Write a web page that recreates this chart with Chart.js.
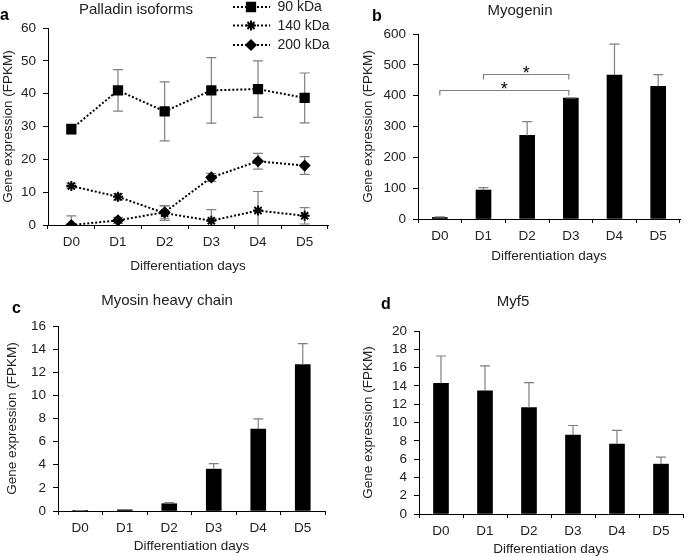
<!DOCTYPE html>
<html><head><meta charset="utf-8">
<script src="https://cdn.jsdelivr.net/npm/chart.js@4.4.1/dist/chart.umd.min.js"></script>
<style>
html,body{margin:0;padding:0;background:#fff;}
body{width:685px;height:557px;position:relative;overflow:hidden;font-family:"Liberation Sans",Arial,sans-serif;}
.panel{position:absolute;}
.lbl{position:absolute;font-weight:bold;font-size:16px;color:#000;line-height:1;}
.ttl{position:absolute;font-size:15px;color:#222;line-height:1;white-space:nowrap;transform:translateX(-50%);}
</style></head><body>
<div class="panel" style="left:0;top:0;width:340px;height:280px"><canvas id="ca"></canvas></div>
<div class="panel" style="left:340px;top:0;width:345px;height:280px"><canvas id="cb"></canvas></div>
<div class="panel" style="left:0;top:280px;width:340px;height:277px"><canvas id="cc"></canvas></div>
<div class="panel" style="left:340px;top:280px;width:345px;height:277px"><canvas id="cd"></canvas></div>
<div class="lbl" style="left:0px;top:7px">a</div>
<div class="lbl" style="left:372px;top:8px">b</div>
<div class="lbl" style="left:12px;top:300px">c</div>
<div class="lbl" style="left:381px;top:296px">d</div>
<div class="ttl" style="left:136px;top:1px">Palladin isoforms</div>
<div class="ttl" style="left:520px;top:2px">Myogenin</div>
<div class="ttl" style="left:167px;top:292px">Myosin heavy chain</div>
<div class="ttl" style="left:513px;top:293px">Myf5</div>
<script>
// ---------- data ----------
const days = ['D0','D1','D2','D3','D4','D5'];
const seriesNames = ['90 kDa','140 kDa','200 kDa'];
const pal90 = [29.2, 41.0, 34.6, 41.0, 41.4, 38.7];
const pal90Err = [1.5, 6.3, 9.0, 10.0, 8.6, 7.6];
const pal140 = [11.9, 8.6, 3.6, 1.3, 4.4, 2.8];
const pal140Err = [0.6, 1.0, 2.2, 3.4, 5.8, 2.5];
const pal200 = [0.0, 1.4, 3.9, 14.5, 19.4, 18.1];
const pal200Err = [2.8, 0.9, 2.0, 1.2, 2.4, 2.7];
const myogenin = [5, 94, 271, 392, 467, 430];
const myogeninErr = [2, 8, 45, 1, 100, 38];
const mhc = [0.03, 0.1, 0.63, 3.62, 7.09, 12.67];
const mhcErr = [0.01, 0.03, 0.1, 0.48, 0.87, 1.8];
const myf5 = [14.29, 13.45, 11.64, 8.62, 7.64, 5.45];
const myf5Err = [2.98, 2.73, 2.72, 1.05, 1.49, 0.77];
const sigPairs = [[0,3],[1,3]];
const sigLevels = [418, 470];
const sigLabels = ['*','*'];
const yTitle = 'Gene expression (FPKM)';
const xTitle = 'Differentiation days';

// ---------- styles ----------
const FONT = '"Liberation Sans", Arial, sans-serif';
const TXT = '#222';
const ERR = '#808080';

function xScale(h, titlePadBottom){
  return {
    type:'category', offset:true,
    grid:{display:true, drawOnChartArea:false, drawTicks:true, tickLength:4, offset:true, color:'#000', lineWidth:1},
    border:{display:true, color:'#000', width:1},
    ticks:{color:TXT, font:{family:FONT,size:13.5}, padding:5, maxRotation:0, autoSkip:false},
    title:{display:true, text:xTitle, color:TXT, font:{family:FONT,size:13.5}, padding:{top:0,bottom:titlePadBottom}},
    afterFit(s){ s.height = h; }
  };
}
function yScale(max, step, w){
  return {
    min:0, max:max,
    grid:{display:true, drawOnChartArea:false, drawTicks:true, tickLength:5, color:'#000', lineWidth:1},
    border:{display:true, color:'#000', width:1},
    ticks:{stepSize:step, autoSkip:false, color:TXT, font:{family:FONT,size:13.5}, padding:7},
    title:{display:true, text:yTitle, color:TXT, font:{family:FONT,size:13.5}, padding:{top:0,bottom:0}},
    afterFit(s){ s.width = w; }
  };
}

function errorBars(errs, both, cap){
  function draw(chart){
    const ctx = chart.ctx, ys = chart.scales.y, a = chart.chartArea;
    ctx.save();
    ctx.beginPath(); ctx.rect(a.left, a.top-20, a.right-a.left, a.bottom-a.top+20); ctx.clip();
    ctx.strokeStyle = ERR; ctx.lineWidth = 1.2;
    errs.forEach((arr, di) => {
      const meta = chart.getDatasetMeta(di);
      const vals = chart.data.datasets[di].data;
      meta.data.forEach((el, j) => {
        const v = vals[j], e = arr[j];
        const x = el.x;
        const yt = ys.getPixelForValue(v + e);
        const yb = both ? ys.getPixelForValue(v - e) : ys.getPixelForValue(v);
        ctx.beginPath();
        ctx.moveTo(x, yt); ctx.lineTo(x, yb);
        ctx.moveTo(x - cap/2, yt); ctx.lineTo(x + cap/2, yt);
        if (both) { ctx.moveTo(x - cap/2, yb); ctx.lineTo(x + cap/2, yb); }
        ctx.stroke();
      });
    });
    ctx.restore();
  }
  return both ? {id:'eb', beforeDatasetsDraw: draw} : {id:'eb', afterDatasetsDraw: draw};
}

const markerStyles = [
  {pointStyle:'rect', radius:6.2, bw:1.5},
  {pointStyle:'star', radius:5, bw:2},
  {pointStyle:'rectRot', radius:5, bw:1.5}
];

const legendPlugin = {
  id:'customLegend',
  afterDraw(chart){
    const ctx = chart.ctx;
    const rows = [7, 25.5, 45];
    ctx.save();
    seriesNames.forEach((name, i) => {
      const y = rows[i];
      ctx.strokeStyle = '#000'; ctx.lineWidth = 2; ctx.setLineDash([2,2]);
      ctx.beginPath(); ctx.moveTo(233, y); ctx.lineTo(270, y); ctx.stroke();
      ctx.setLineDash([]);
      const ms = markerStyles[i];
      ctx.fillStyle = '#000'; ctx.strokeStyle = '#000'; ctx.lineWidth = ms.bw;
      if (Chart.helpers && Chart.helpers.drawPoint) {
        Chart.helpers.drawPoint(ctx, {pointStyle: ms.pointStyle, radius: ms.radius, rotation: 0, borderWidth: ms.bw}, 251, y);
      }
      ctx.fillStyle = TXT;
      ctx.font = '14px ' + FONT;
      ctx.textBaseline = 'middle'; ctx.textAlign = 'left';
      ctx.fillText(name, 277.5, y + 0.5);
    });
    ctx.restore();
  }
};

const sigPlugin = {
  id:'sig',
  afterDatasetsDraw(chart){
    const ctx = chart.ctx, ys = chart.scales.y, meta = chart.getDatasetMeta(0);
    ctx.save();
    sigPairs.forEach((p, k) => {
      const x1 = meta.data[p[0]].x, x2 = meta.data[p[1]].x - 2;
      const y = Math.round(ys.getPixelForValue(sigLevels[k])) + 0.5;
      ctx.strokeStyle = ERR; ctx.lineWidth = 1.2;
      ctx.beginPath();
      ctx.moveTo(x1, y + 5); ctx.lineTo(x1, y); ctx.lineTo(x2, y); ctx.lineTo(x2, y + 5);
      ctx.stroke();
      ctx.fillStyle = '#000'; ctx.font = '18px ' + FONT;
      ctx.textAlign = 'center'; ctx.textBaseline = 'alphabetic';
      ctx.fillText(sigLabels[k], (x1 + x2) / 2, y + 4.5);
    });
    ctx.restore();
  }
};

const base = {responsive:true, maintainAspectRatio:false, animation:false,
  plugins:{legend:{display:false}, tooltip:{enabled:false}, title:{display:false}}};

// ---------- panel a ----------
new Chart(document.getElementById('ca'), {
  type:'line',
  data:{labels:days, datasets:[pal90, pal140, pal200].map((d, i) => ({
    label: seriesNames[i], data: d,
    borderColor:'#000', borderWidth:2, borderDash:[2,2], fill:false, tension:0,
    pointStyle: markerStyles[i].pointStyle, pointRadius: markerStyles[i].radius,
    pointBackgroundColor:'#000', pointBorderColor:'#000', pointBorderWidth: markerStyles[i].bw
  }))},
  options:Object.assign({}, base, {
    layout:{padding:{top:28, right:12, left:0, bottom:0}},
    scales:{x:xScale(55, 6), y:yScale(60, 10, 48)}
  }),
  plugins:[errorBars([pal90Err, pal140Err, pal200Err], true, 10), legendPlugin]
});

function barChart(id, vals, errs, max, step, pad, yw, xh, xtp, extra){
  return new Chart(document.getElementById(id), {
    type:'bar',
    data:{labels:days, datasets:[{data:vals, backgroundColor:'#000', borderWidth:0, barThickness:15}]},
    options:Object.assign({}, base, {
      layout:{padding:pad},
      scales:{x:xScale(xh, xtp), y:yScale(max, step, yw)}
    }),
    plugins:[errorBars([errs], false, 10)].concat(extra || [])
  });
}

barChart('cb', myogenin, myogeninErr, 600, 100, {top:34, right:5, left:20, bottom:0}, 58, 61, 16, [sigPlugin]);
barChart('cc', mhc, mhcErr, 16, 2, {top:46, right:15, left:4, bottom:0}, 54, 46, 3);
barChart('cd', myf5, myf5Err, 20, 2, {top:51, right:2, left:20, bottom:0}, 59, 43, 0);
</script>
</body></html>
